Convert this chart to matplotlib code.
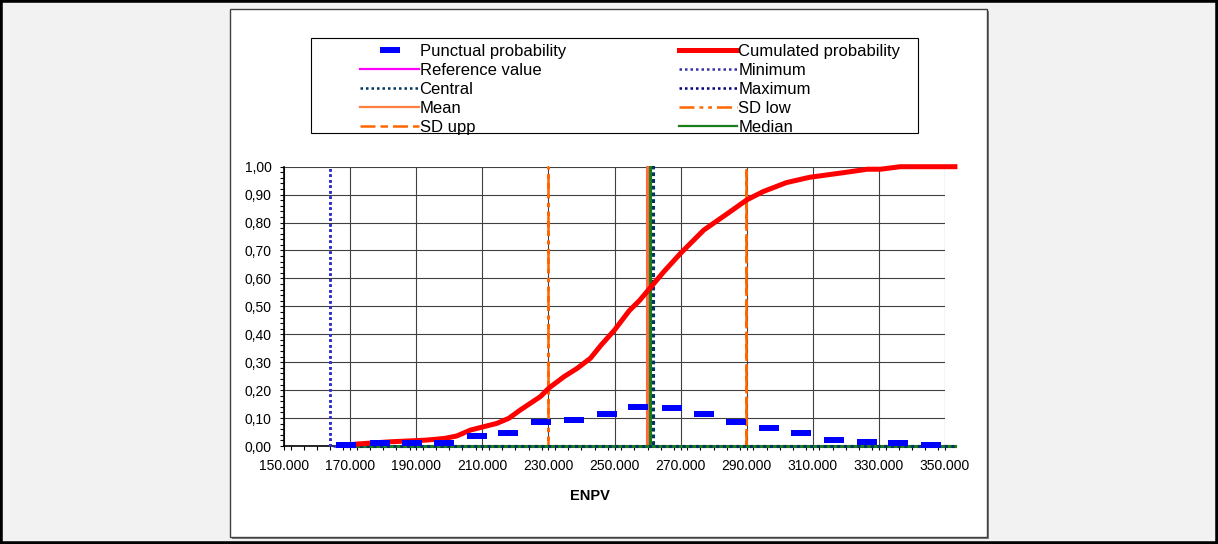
import numpy as np
import matplotlib
matplotlib.use('Agg')
import matplotlib.pyplot as plt
from matplotlib.patches import Rectangle
from matplotlib.lines import Line2D
from matplotlib.ticker import MultipleLocator, FuncFormatter

plt.rcParams['font.family'] = ['Liberation Sans', 'DejaVu Sans']

#%% data
# punctual probability (one dash per bin)
punct_x = [168700, 179000, 188600, 198500, 208300, 217900, 227800, 237800, 247800,
           257200, 267500, 277200, 286900, 296700, 306400, 316500, 326500, 335900, 345800]
punct_y = [0.002, 0.009, 0.010, 0.012, 0.036, 0.048, 0.086, 0.094, 0.115,
           0.141, 0.136, 0.115, 0.086, 0.064, 0.048, 0.021, 0.013, 0.010, 0.002]

# cumulated probability
cum_x = [168700, 172000, 182000, 193000, 198500, 202300, 206400, 214400, 218000,
         221500, 227600, 230100, 234700, 238700, 242700, 246000, 250000, 254500,
         257500, 260500, 265000, 270000, 277000, 285000, 290000, 295000, 302000,
         309000, 319500, 326500, 330500, 336500, 353000]
cum_y = [0.003, 0.007, 0.015, 0.021, 0.027, 0.036, 0.057, 0.081, 0.099,
         0.129, 0.177, 0.207, 0.248, 0.278, 0.314, 0.362, 0.415, 0.485,
         0.520, 0.562, 0.625, 0.690, 0.773, 0.839, 0.881, 0.911, 0.943,
         0.962, 0.979, 0.991, 0.991, 1.000, 1.000]

# statistics drawn as vertical markers
x_start, x_end = 168700, 353000
minimum = 163900
central = 261600
mean = 259800
median = 260700
sd_low = 229900
sd_upp = 289800

x_ticks = np.arange(150000, 350001, 20000)
y_ticks = np.arange(0, 1.001, 0.1)


def spike(xv):
    # series that is 0 over the range and jumps to 1 at xv
    xs = [min(x_start, xv), xv, xv, xv, x_end]
    ys = [0, 0, 1, 0, 0]
    return xs, ys


#%% figure
W, H = 1218, 544
fig = plt.figure(figsize=(W / 100, H / 100), dpi=100)
fig.patch.set_facecolor('#f2f2f2')

def px(x0, y0, x1, y1):
    return (x0 / W, 1 - y1 / H, (x1 - x0) / W, (y1 - y0) / H)

fig.patches.append(Rectangle((0, 0), 1, 1, transform=fig.transFigure,
                             fill=False, ec='black', lw=4, zorder=10))
b = px(230, 9, 987, 537)
fig.patches.append(Rectangle((b[0] + 1.5 / W, b[1] - 1.5 / H), b[2], b[3],
                             transform=fig.transFigure, fc='#7f7f7f', ec='none', zorder=-2))
fig.patches.append(Rectangle(b[:2], b[2], b[3], transform=fig.transFigure,
                             fc='white', ec='#404040', lw=1, zorder=-1))
lb = px(311, 38, 918, 133)
fig.patches.append(Rectangle(lb[:2], lb[2], lb[3], transform=fig.transFigure,
                             fc='white', ec='black', lw=0.8, zorder=-0.5))

ax = fig.add_axes(px(284, 166.7, 945, 446))
ax.set_facecolor('white')

rect = [(-1, -0.3), (1, -0.3), (1, 0.3), (-1, 0.3), (-1, -0.3)]

xs, ys = spike(minimum)
ax.plot(xs, ys, color='#3333cc', lw=1.8, ls=(0, (1, 1.2)), clip_on=False, zorder=3)
xs, ys = spike(sd_low)
ax.plot(xs, ys, color='#ff6600', lw=1.8, ls=(0, (6, 2, 1.5, 2, 1.5, 2)), clip_on=False, zorder=3)
xs, ys = spike(sd_upp)
ax.plot(xs, ys, color='#ff6600', lw=1.8, ls=(0, (6, 2, 3, 2)), clip_on=False, zorder=3)
xs, ys = spike(mean)
ax.plot(xs, ys, color='#ff6a40', lw=2.2, clip_on=False, zorder=3)
xs, ys = spike(median)
ax.plot(xs, ys, color='#1a7f1a', lw=2.2, clip_on=False, zorder=3)
xs, ys = spike(central)
ax.plot(xs, ys, color='#003366', lw=2.2, ls=(0, (1, 1.2)), clip_on=False, zorder=3)

ax.plot(cum_x, cum_y, color='#ff0000', lw=3.6, clip_on=False, zorder=4,
        solid_joinstyle='round')
ax.plot(punct_x, punct_y, ls='none', marker=rect, ms=14.5, mew=0,
        color='#0000ff', clip_on=False, zorder=5)

ax.set_xlim(150000, 350000)
ax.set_ylim(0, 1)
ax.set_xticks(x_ticks)
ax.set_yticks(y_ticks)
ax.xaxis.set_minor_locator(MultipleLocator(4000))
ax.yaxis.set_minor_locator(MultipleLocator(0.02))
ax.xaxis.set_major_formatter(FuncFormatter(lambda v, p: f"{v:,.0f}".replace(',', '.')))
ax.yaxis.set_major_formatter(FuncFormatter(lambda v, p: f"{v:.2f}".replace('.', ',')))
ax.tick_params(which='major', direction='out', length=3, width=0.8, labelsize=10, pad=6)
ax.tick_params(which='minor', direction='out', length=3, width=0.8)
ax.grid(True, which='major', color='#404040', lw=0.8)
ax.set_axisbelow(True)
for s in ['top', 'right']:
    ax.spines[s].set_visible(False)
for s in ['left', 'bottom']:
    ax.spines[s].set_linewidth(1.2)
    ax.spines[s].set_zorder(2)

ax.set_xlabel('ENPV', fontweight='bold', fontsize=10.5)
ax.xaxis.set_label_coords((590 - 284) / 661, -(489 - 446) / 279.3)

# legend, two columns, read row by row
handles = [
    Line2D([], [], ls='none', marker=rect, ms=14, mew=0, color='#0000ff'),
    Line2D([], [], color='#ff0000', lw=3.6),
    Line2D([], [], color='#ff00ff', lw=1.6),
    Line2D([], [], color='#3333aa', lw=1.8, ls=(0, (1, 1.2))),
    Line2D([], [], color='#003366', lw=1.8, ls=(0, (1, 1.2))),
    Line2D([], [], color='#000080', lw=1.8, ls=(0, (1, 1.2))),
    Line2D([], [], color='#ff7f3f', lw=1.6),
    Line2D([], [], color='#ff6600', lw=1.8, ls=(0, (6, 2, 1.5, 2, 1.5, 2))),
    Line2D([], [], color='#ff6600', lw=1.8, ls=(0, (6, 2, 3, 2))),
    Line2D([], [], color='#1a7f1a', lw=1.6),
]
labels = ['Punctual probability', 'Cumulated probability', 'Reference value', 'Minimum',
          'Central', 'Maximum', 'Mean', 'SD low', 'SD upp', 'Median']
# reorder for column-major fill
order = [0, 2, 4, 6, 8, 1, 3, 5, 7, 9]
fig.legend([handles[i] for i in order], [labels[i] for i in order], ncol=2,
           loc='upper left', bbox_to_anchor=(352 / W, 1 - 35.5 / H),
           bbox_transform=fig.transFigure, frameon=False, borderpad=0,
           fontsize=12, handlelength=3.5, handletextpad=0.05,
           columnspacing=6.8, labelspacing=0.24)

fig.savefig('out.png', dpi=100)
